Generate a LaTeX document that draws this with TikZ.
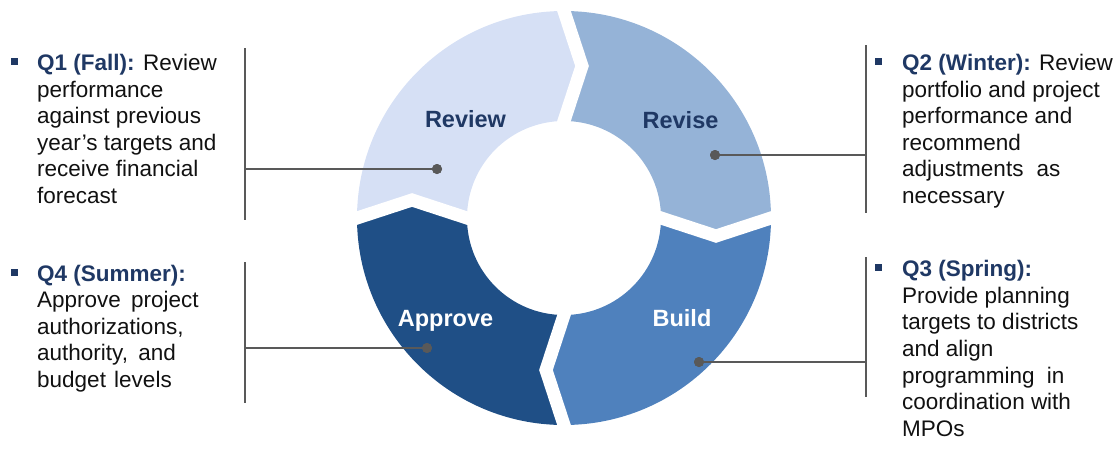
\documentclass[tikz,border=0pt]{standalone}
\usepackage{fontspec}
\setmainfont{Liberation Sans}
\definecolor{fillReview}{HTML}{D6E0F5}
\definecolor{fillRevise}{HTML}{95B3D7}
\definecolor{fillBuild}{HTML}{4F81BD}
\definecolor{fillApprove}{HTML}{1F4F86}
\definecolor{navy}{HTML}{1F3864}
\definecolor{dotgray}{HTML}{595959}
\definecolor{bodytext}{HTML}{111111}
\newcommand\qhead[1]{\leavevmode{\bfseries\color{navy}#1}}
\begin{document}
\begin{tikzpicture}[x=1pt,y=-1pt,
  desc/.style={anchor=base west, inner sep=0pt, text=bodytext, font=\fontsize{22.5}{26.6}\selectfont},
  seglabel/.style={anchor=base, inner sep=0pt, font=\fontsize{23.5}{28}\selectfont\bfseries},
  bulletbox/.style={rectangle, fill=navy, minimum size=7pt, inner sep=0pt},
  dotmark/.style={circle, fill=dotgray, minimum size=10pt, inner sep=0pt},
  conn/.style={draw=dotgray, line width=2.5pt},
  gapline/.style={draw=white, line width=13pt, line join=miter}]
\useasboundingbox (0,0) rectangle (1119,448);
% ring segments
\fill[fillReview] (467,218) -- (412,200) -- (357,218) arc[start angle=180,end angle=270,radius=207] -- (582,66) -- (564,121) arc[start angle=270,end angle=180,radius=97] -- cycle;
\fill[fillRevise] (564,121) -- (582,66) -- (564,11) arc[start angle=270,end angle=360,radius=207] -- (716,236) -- (661,218) arc[start angle=0,end angle=-90,radius=97] -- cycle;
\fill[fillBuild] (661,218) -- (716,236) -- (771,218) arc[start angle=0,end angle=90,radius=207] -- (546,370) -- (564,315) arc[start angle=90,end angle=0,radius=97] -- cycle;
\fill[fillApprove] (564,315) -- (546,370) -- (564,425) arc[start angle=90,end angle=180,radius=207] -- (412,200) -- (467,218) arc[start angle=180,end angle=90,radius=97] -- cycle;
% gaps
\draw[gapline] (560.4,132) -- (582,66) -- (560.4,0);
\draw[gapline] (650,214.4) -- (716,236) -- (782,214.4);
\draw[gapline] (567.6,304) -- (546,370) -- (567.6,436);
\draw[gapline] (478,221.6) -- (412,200) -- (346,221.6);
% segment labels
\node[seglabel, text=navy] (lreview) at (465.5,127) {Review};
\node[seglabel, text=navy] (lrevise) at (680.5,128) {Revise};
\node[seglabel, text=white] (lapprove) at (445.5,326) {Approve};
\node[seglabel, text=white] (lbuild) at (682,326) {Build};
% bars
\coordinate (b1t) at (245,48);  \coordinate (b1b) at (245,220);
\coordinate (b2t) at (866,45);  \coordinate (b2b) at (866,213);
\coordinate (b3t) at (866,257); \coordinate (b3b) at (866,397);
\coordinate (b4t) at (245,262); \coordinate (b4b) at (245,403);
\draw[conn] (b1t) -- (b1b);
\draw[conn] (b2t) -- (b2b);
\draw[conn] (b3t) -- (b3b);
\draw[conn] (b4t) -- (b4b);
% dots
\node[dotmark] (d1) at (437,169) {};
\node[dotmark] (d2) at (715,155) {};
\node[dotmark] (d3) at (699,362) {};
\node[dotmark] (d4) at (427,348) {};
\draw[conn] (d1.center) -- (d1.center -| b1t);
\draw[conn] (d2.center) -- (d2.center -| b2t);
\draw[conn] (d3.center) -- (d3.center -| b3t);
\draw[conn] (d4.center) -- (d4.center -| b4t);
\node[dotmark] at (d1) {};
\node[dotmark] at (d2) {};
\node[dotmark] at (d3) {};
\node[dotmark] at (d4) {};
% bullets
\node[bulletbox] (bl1) at (14,61.5) {};
\node[bulletbox] (bl2) at (878,61.5) {};
\node[bulletbox] (bl3) at (878,267.7) {};
\node[bulletbox] (bl4) at (14,272) {};
% texts
\node[desc] (q1) at (37,70.5) {\parbox[t]{215pt}{\raggedright\qhead{Q1 (Fall):} Review\\performance\\against previous\\year’s targets and\\receive financial\\forecast}};
\node[desc] (q2) at (902,70.5) {\parbox[t]{215pt}{\raggedright\qhead{Q2 (Winter):} Review\\portfolio and project\\performance and\\recommend\\adjustments\hspace{7pt} as\\necessary}};
\node[desc] (q3) at (902,276.7) {\parbox[t]{215pt}{\raggedright\qhead{Q3 (Spring):}\\Provide planning\\targets to districts\\and align\\programming\hspace{6pt} in\\coordination with\\MPOs}};
\node[desc] (q4) at (37,281) {\parbox[t]{205pt}{\raggedright\qhead{Q4 (Summer):}\\Approve\hspace{4pt} project\\authorizations,\\authority,\hspace{4pt} and\\budget\hspace{2pt} levels}};
\end{tikzpicture}
\end{document}
